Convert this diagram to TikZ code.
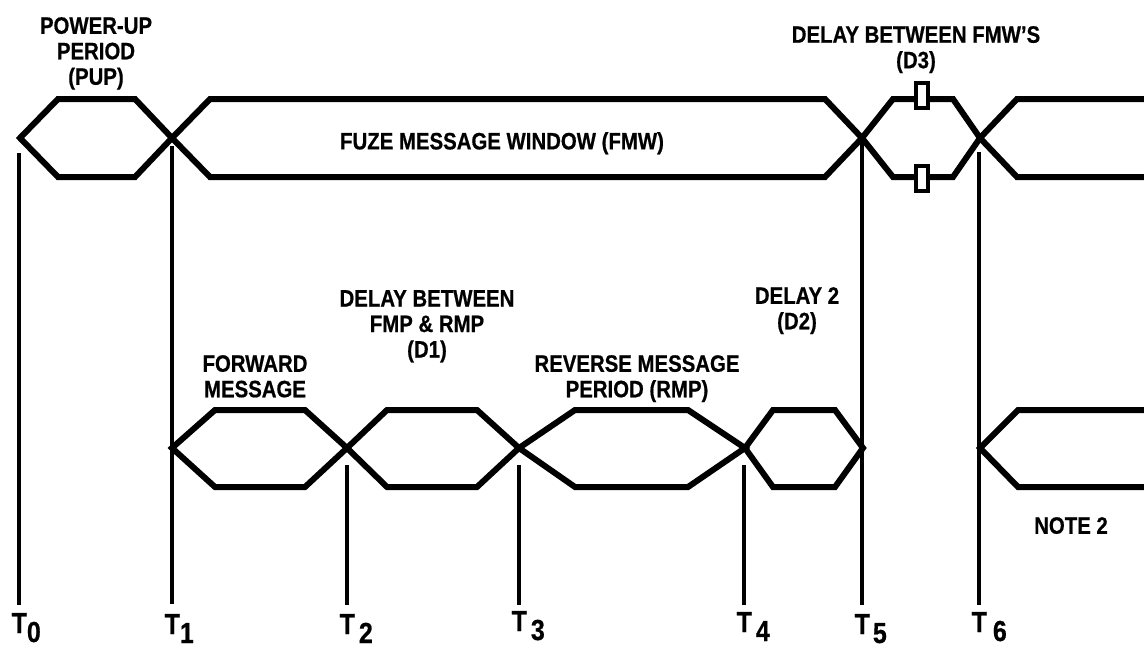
\documentclass[tikz,border=0pt]{standalone}
\usepackage{fontspec}
\setmainfont{Liberation Sans}[FakeStretch=0.86, BoldFeatures={FakeBold=0.6}]
\tikzset{
  wave/.style={line width=6pt, line join=miter, draw=black},
  tick/.style={line width=3.5pt, draw=black},
  lbl/.style={font=\bfseries\fontsize{23.7}{25.5}\selectfont, align=center, inner sep=0pt, anchor=north},
  tlab/.style={font=\bfseries\fontsize{29}{30}\selectfont, inner sep=0pt, anchor=base west},
  d3box/.style={draw=black, fill=white, line width=4pt, minimum width=12pt, minimum height=25pt, inner sep=0pt}
}
\newcommand{\tsub}[2]{T\hspace{#1pt}\raisebox{-9pt}{#2}}
\begin{document}
\begin{tikzpicture}[x=1pt,y=-1pt]
\useasboundingbox (0,0) rectangle (1144,648);
% top row
\draw[wave] (20,138) -- (58,99) -- (135,99) -- (172,138) -- (135,177) -- (58,177) -- cycle;
\draw[wave] (172,138) -- (210,99) -- (825,99) -- (862,138) -- (825,177) -- (210,177) -- cycle;
\draw[wave] (862,138) -- (893,99) -- (953,99) -- (980,138) -- (953,177) -- (893,177) -- cycle;
\draw[wave] (1150,99) -- (1017,99) -- (980,138) -- (1017,177) -- (1150,177);
\node[d3box] (d3top) at (922,95) {};
\node[d3box] (d3bot) at (922,178) {};
% bottom row
\draw[wave] (172,448) -- (215,410) -- (305,410) -- (347,448) -- (305,487) -- (215,487) -- cycle;
\draw[wave] (347,448) -- (387,410) -- (477,410) -- (519,448) -- (477,487) -- (387,487) -- cycle;
\draw[wave] (519,448) -- (575,410) -- (688,410) -- (745,448) -- (688,487) -- (575,487) -- cycle;
\draw[wave] (745,448) -- (773,410) -- (835,410) -- (863,448) -- (835,487) -- (773,487) -- cycle;
\draw[wave] (1150,410) -- (1018,410) -- (980,448) -- (1018,487) -- (1150,487);
% time markers
\coordinate (a0) at (19,153);  \coordinate (b0) at (19,605);
\coordinate (a1) at (172,146); \coordinate (b1) at (172,604);
\coordinate (a2) at (347,465); \coordinate (b2) at (347,605);
\coordinate (a3) at (519,465); \coordinate (b3) at (519,605);
\coordinate (a4) at (744,465); \coordinate (b4) at (744,605);
\coordinate (a5) at (862,138); \coordinate (b5) at (862,605);
\coordinate (a6) at (979,152); \coordinate (b6) at (979,605);
\foreach \i in {0,...,6} { \draw[tick] (a\i) -- (b\i); }
% labels
\node[lbl] (pup) at (96,17) {POWER-UP\\PERIOD\\(PUP)};
\node[lbl] (fmw) at (502,132) {FUZE MESSAGE WINDOW (FMW)};
\node[lbl] (d3) at (916,26) {DELAY BETWEEN FMW'S\\(D3)};
\node[lbl] (d1) at (427,290) {DELAY BETWEEN\\FMP \& RMP\\(D1)};
\node[lbl] (fm) at (255,355) {FORWARD\\MESSAGE};
\node[lbl] (rmp) at (637,355) {REVERSE MESSAGE\\PERIOD (RMP)};
\node[lbl] (d2) at (797,287) {DELAY 2\\(D2)};
\node[lbl] (note) at (1071,517) {NOTE 2};
% T labels
\node[tlab] (t0) at (11.5,633) {\tsub{0}{0}};
\node[tlab] (t1) at (164.5,634) {\tsub{0}{1}};
\node[tlab] (t2) at (339.5,634) {\tsub{4}{2}};
\node[tlab] (t3) at (511.5,631) {\tsub{4}{3}};
\node[tlab] (t4) at (736.5,632) {\tsub{4}{4}};
\node[tlab] (t5) at (854.5,634) {\tsub{3}{5}};
\node[tlab] (t6) at (971.5,632) {\tsub{6}{6}};
\end{tikzpicture}
\end{document}
